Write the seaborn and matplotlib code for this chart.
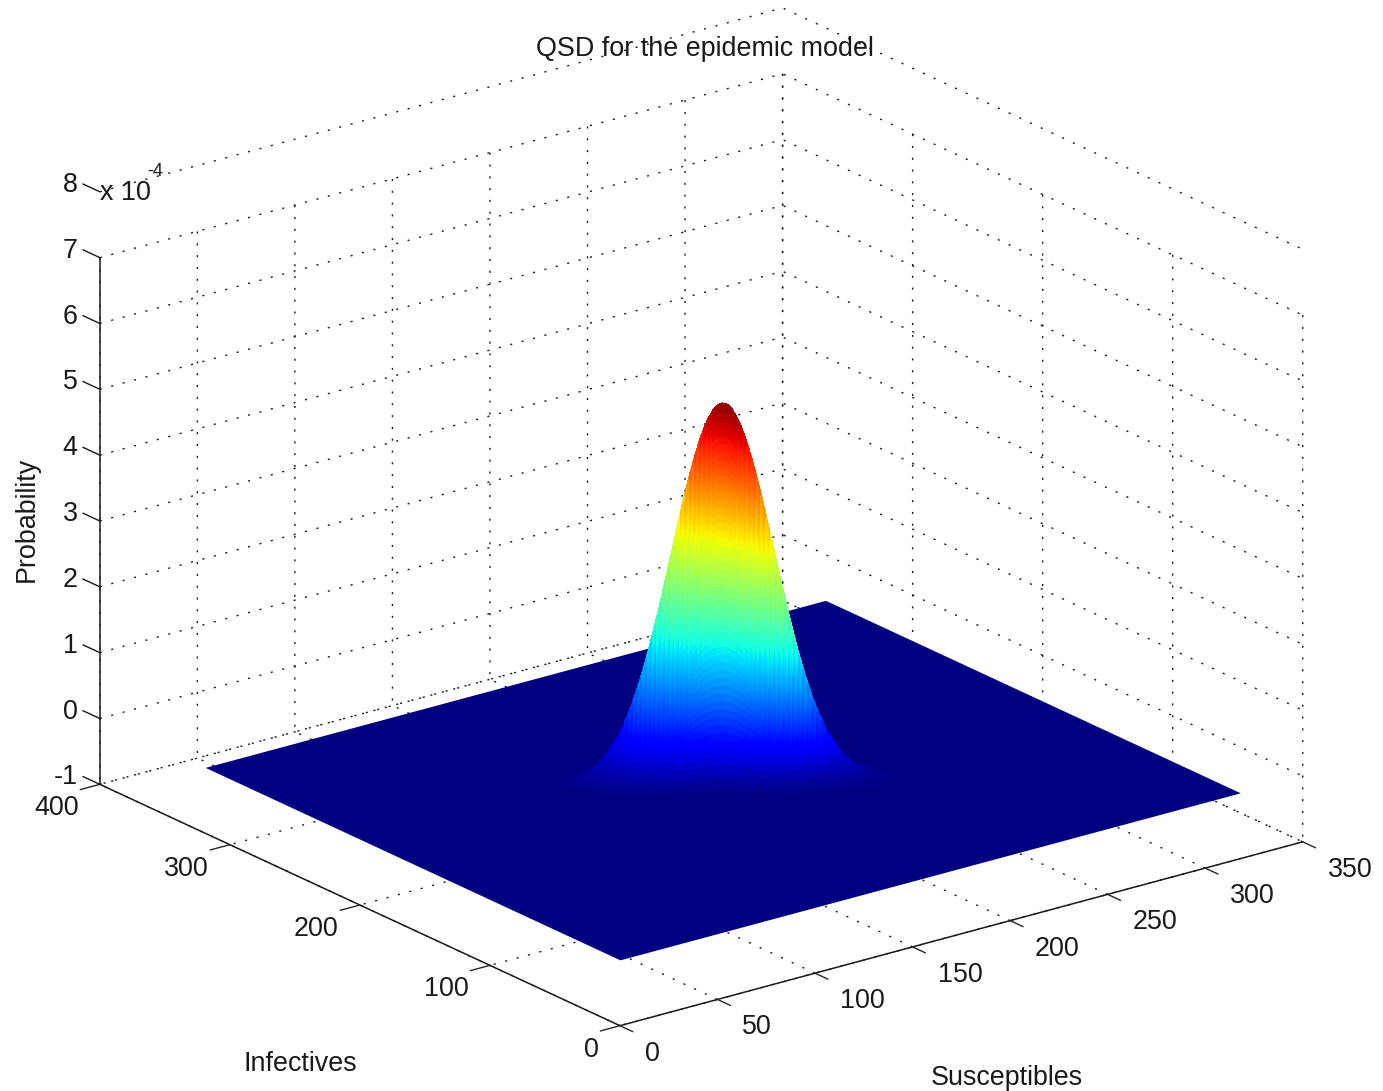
import numpy as np
import matplotlib
matplotlib.use("Agg")
import matplotlib.pyplot as plt
from mpl_toolkits.mplot3d import proj3d
import seaborn as sns

# peak section across the ridge, every 2 units out from its centre (fraction of peak height)
across_section = [1.000, .996, .984, .963, .936, .902, .862, .817, .768, .716,
                  .662, .607, .552, .497, .445, .395, .347, .303, .262, .225,
                  .191, .162, .135, .112, .093, .076, .061, .049, .039, .031,
                  .024, .019, .014, .011, .008, .006, .005, .003, .002, .002, .001]
# section along the short side of the ridge: distance from centre and height there
depth_offsets = [0, 1.5, 2.2, 2.6, 3.1, 3.5, 3.8, 4.1, 4.4, 4.7,
                 5.0, 5.3, 5.6, 5.9, 6.1, 6.4, 6.6, 6.8, 7.1, 7.4,
                 7.6, 7.8, 8.1, 8.3, 8.6, 8.9, 9.1, 9.4, 9.6, 9.9,
                 10.1, 10.4, 10.7, 11.0, 11.3, 11.6, 12, 12.3, 12.7, 13.1,
                 13.4, 13.9, 14.3, 14.9, 15.5, 16.1, 16.9, 17.8, 19.1, 21, 24.5, 27]
depth_section = [1.00, .98, .96, .94, .92, .90, .88, .86, .84, .82,
                 .80, .78, .76, .74, .72, .70, .68, .66, .64, .62,
                 .60, .58, .56, .54, .52, .50, .48, .46, .44, .42,
                 .40, .38, .36, .34, .32, .30, .28, .26, .24, .22,
                 .20, .18, .16, .14, .12, .10, .08, .06, .04, .02, .005, 0]
peak_height = 5.75  # x 10^-4
peak_s = 158
peak_i = 158
floor_s = [0, 318]
floor_i = [0, 319]

s_ticks = [0, 50, 100, 150, 200, 250, 300, 350]
i_ticks = [0, 100, 200, 300, 400]
z_ticks = [-1, 0, 1, 2, 3, 4, 5, 6, 7]
z_extra = 8

sns.set_theme(style="white")
plt.rcParams["font.family"] = ["Liberation Sans", "DejaVu Sans"]
jet = matplotlib.colormaps["jet"]  # seaborn refuses to hand this one out
fs = 19.4

W, H = 1383, 1091
fig = plt.figure(figsize=(W / 100, H / 100), dpi=100)
size = 1500
cx, cy = 681, 570
ax = fig.add_axes([(cx - size / 2) / W, (H - cy - size / 2) / H, size / W, size / H],
                  projection="3d", proj_type="ortho", computed_zorder=False)
ax.patch.set_alpha(0)
ax.set_box_aspect((1, 1, 0.656), zoom=0.866)
ax.view_init(elev=20.7, azim=232.7)

# floor
FS, FI = np.meshgrid(floor_s, floor_i)
ax.plot_surface(FS, FI, np.zeros_like(FS, dtype=float), color=jet(0.0), linewidth=0,
                antialiased=False, shade=False, zorder=1)

# peak, meshed along and across the line of sight
offs = np.arange(len(across_section)) * 2.0
u = np.concatenate([-offs[::-1], offs[1:]])
u_prof = np.array(across_section[::-1] + across_section[1:])
v = np.concatenate([-np.array(depth_offsets[::-1]), depth_offsets[1:]])
v_prof = np.array(depth_section[::-1] + depth_section[1:])
U, V = np.meshgrid(u, v)
S = peak_s + 0.795 * U + 0.606 * V
I = peak_i - 0.606 * U + 0.795 * V
Z = peak_height * np.outer(v_prof, u_prof)
ax.plot_surface(S, I, Z, facecolors=jet(Z / peak_height), rstride=1, cstride=1, linewidth=0,
                antialiased=False, shade=False, zorder=2)

ax.set_xticks(s_ticks)
ax.set_yticks(i_ticks)
ax.set_zticks(z_ticks)
ax.set_xticklabels([])
ax.set_yticklabels([])
ax.set_zticklabels([])

dots = (0, (1.5, 7))
for axis, tick_in in [(ax.xaxis, 0.31), (ax.yaxis, 0.36), (ax.zaxis, 0)]:
    axis.set_pane_color((1, 1, 1, 0))
    axis.pane.set_edgecolor((1, 1, 1, 0))
    axis.line.set_color("k")
    axis.line.set_linewidth(1.1)
    axis._axinfo["grid"].update(color="k", linewidth=1.0, linestyle=dots)
    axis._axinfo["tick"].update(inward_factor=tick_in, outward_factor=0, linewidth={True: 1.0, False: 1.0})
ax.grid(True)

# the 8 level has lines and a label, but the walls stop at 7
ax.plot([0, 350, 350], [400, 400, 0], [z_extra] * 3, color="k", lw=1.0, ls=dots, clip_on=False, zorder=0)
for z in z_ticks + [z_extra]:
    ax.plot([0, 0], [400, 413], [z, z], color="k", lw=1.0, clip_on=False)

ax.set_xlim(0, 350)
ax.set_ylim(0, 400)
ax.set_zlim(-1, 7)

# tick labels sit at a fixed offset from the ticks, so project them by hand
proj = ax.get_proj()
def tick_label(x, y, z, txt, ha):
    px, py, _ = proj3d.proj_transform(x, y, z, proj)
    ax.text2D(px, py, txt, transform=ax.transData, fontsize=fs, color="k", ha=ha, va="center")

for z in z_ticks + [z_extra]:
    tick_label(0, 417, z - 0.05, str(z), "right")
for val in s_ticks:
    tick_label(val, -19.2, -1.25, str(val), "left")
for val in i_ticks:
    tick_label(-10.8, val, -1.28, str(val), "right")

def px_text(x, y, txt, **kw):
    kw.setdefault("ha", "center")
    kw.setdefault("va", "center")
    kw.setdefault("fontsize", fs)
    fig.text(x / W, 1 - y / H, txt, color="k", **kw)

px_text(705, 49, "QSD for the epidemic model")
px_text(27, 519, "Probability", rotation=90)
px_text(300, 1064, "Infectives")
px_text(1007, 1078, "Susceptibles")
px_text(125, 193, "x 10")
px_text(155, 172, "-4", fontsize=13)

fig.savefig("out.png", dpi=100)
